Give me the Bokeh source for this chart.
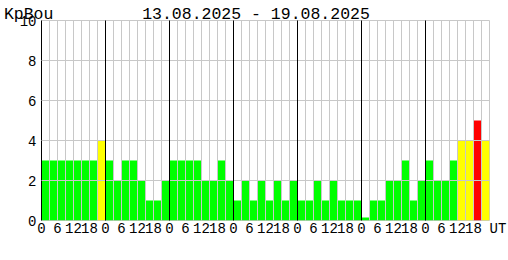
from bokeh.plotting import figure
from bokeh.models import (Range1d, FixedTicker, Grid, LinearAxis,
                          ColumnDataSource)
from bokeh.embed import file_html
from bokeh.resources import INLINE

title_text = "13.08.2025 - 19.08.2025"
station = "KpBou"
unit_label = "UT"
hour_labels = ["0", "6", "12", "18"]
kp_ticks = [0, 2, 4, 6, 8, 10]
days = 7
bars_per_day = 8

kp_day1 = [3, 3, 3, 3, 3, 3, 3, 4]
kp_day2 = [3, 2, 3, 3, 2, 1, 1, 2]
kp_day3 = [3, 3, 3, 3, 2, 2, 3, 2]
kp_day4 = [1, 2, 1, 2, 1, 2, 1, 2]
kp_day5 = [1, 1, 2, 1, 2, 1, 1, 1]
kp_day6 = [0.15, 1, 1, 2, 2, 3, 1, 2]
kp_day7 = [3, 2, 2, 3, 4, 4, 5, 4]

kp = kp_day1 + kp_day2 + kp_day3 + kp_day4 + kp_day5 + kp_day6 + kp_day7
n = len(kp)


def kp_color(v):
    if v >= 5:
        return "#ff0000"
    if v >= 4:
        return "#ffff00"
    return "#00ff00"


src = ColumnDataSource(dict(x=[i + 0.5 for i in range(n)], top=kp,
                            color=[kp_color(v) for v in kp]))

MONO = "Liberation Mono"
NB = "\u00a0"
GRID_GRAY = "#c8c8c8"

p = figure(frame_width=448, frame_height=200, output_backend="svg",
           toolbar_location=None, title=None,
           x_range=Range1d(0, n), y_range=Range1d(0, 10),
           min_border_left=41, min_border_right=19, min_border_top=20,
           min_border_bottom=40, background_fill_color="white",
           border_fill_color="white")
p.outline_line_color = GRID_GRAY

p.vbar(x="x", top="top", bottom=0, width=1, color="color", line_color=None,
       source=src)

# grids drawn over the bars
p.xgrid.ticker = FixedTicker(ticks=list(range(n + 1)))
p.xgrid.grid_line_color = GRID_GRAY
p.xgrid.level = "annotation"
p.ygrid.ticker = FixedTicker(ticks=kp_ticks)
p.ygrid.grid_line_color = GRID_GRAY
p.ygrid.level = "annotation"

day_grid = Grid(dimension=0,
                ticker=FixedTicker(ticks=[d * bars_per_day for d in range(1, days)]),
                grid_line_color="black", level="annotation")
p.add_layout(day_grid)
base_grid = Grid(dimension=1, ticker=FixedTicker(ticks=[0]),
                 grid_line_color="black", level="annotation")
p.add_layout(base_grid)

# bottom axis: hours of each day, then the time-zone tag at the right end
xt = []
overrides = {}
for d in range(days):
    for k, lab in enumerate(hour_labels):
        t = d * bars_per_day + k * 2
        xt.append(t)
        overrides[t] = lab
xt.append(n)
overrides[n] = NB * 2 + unit_label

main_x = p.below[0]
main_y = p.left[0]
main_x.ticker = FixedTicker(ticks=xt)
main_x.major_label_overrides = overrides
main_x.axis_line_color = None
main_y.ticker = FixedTicker(ticks=kp_ticks)
main_y.axis_line_color = "black"

for ax in (main_x, main_y):
    ax.major_tick_line_color = None
    ax.minor_tick_line_color = None
    ax.major_tick_out = 0
    ax.major_tick_in = 0
    ax.minor_tick_out = 0
    ax.minor_tick_in = 0
    ax.major_label_text_font = MONO
    ax.major_label_text_color = "black"
    ax.major_label_text_font_size = "14px"
main_x.major_label_standoff = 0
main_y.major_label_standoff = 5

# header line: station name (left) and date range (centre)
p.extra_x_ranges = {"head": Range1d(0, 448)}
head_axis = LinearAxis(x_range_name="head",
                       ticker=FixedTicker(ticks=[2, 214.5]),
                       major_label_overrides={2: station + NB * 3,
                                              214.5: title_text},
                       axis_line_color=None, major_tick_line_color=None,
                       minor_tick_line_color=None, major_tick_out=0,
                       major_tick_in=0, minor_tick_out=0, minor_tick_in=0,
                       major_label_standoff=-3, major_label_text_font=MONO,
                       major_label_text_font_size="16.5px",
                       major_label_text_color="black")
p.add_layout(head_axis, "above")

open("out.html", "w").write(file_html(p, INLINE))
